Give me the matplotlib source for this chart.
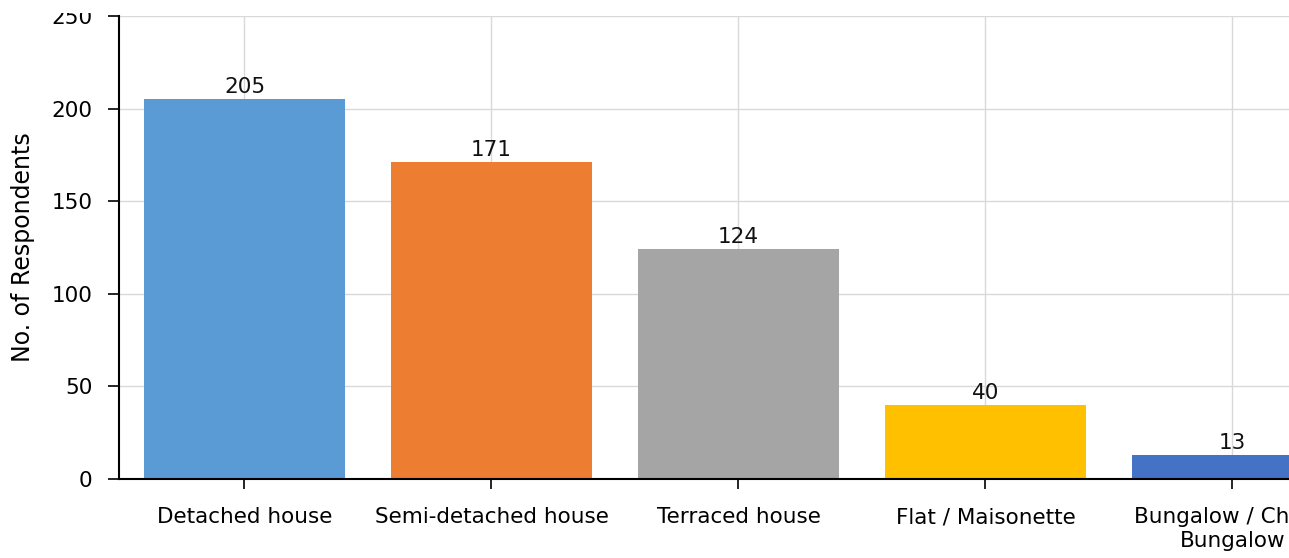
import matplotlib
matplotlib.use("Agg")
import matplotlib.pyplot as plt
from matplotlib.transforms import Bbox

categories = ["Detached house", "Semi-detached house", "Terraced house",
              "Flat / Maisonette", "Bungalow / Chalet\nBungalow"]
values = [205, 171, 124, 40, 13]
colors = ["#5B9BD5", "#ED7D31", "#A5A5A5", "#FFC000", "#4472C4"]
yticks = [0, 50, 100, 150, 200, 250]

plt.rcParams['font.family'] = ['DejaVu Sans']
fig = plt.figure(figsize=(12.89, 5.58), dpi=100)
W, H = 1289, 558
left_px, right_px, top_px, bot_px = 119, 119 + 5 * 247, 16, 479
ax = fig.add_axes([left_px / W, (H - bot_px) / H,
                   (right_px - left_px) / W, (bot_px - top_px) / H])

x = list(range(len(categories)))
bars = ax.bar(x, values, width=0.81, color=colors, zorder=2)
for xi, v in zip(x, values):
    ax.annotate(str(v), (xi, v), xytext=(0, 1.5), textcoords='offset points',
                ha='center', va='bottom', fontsize=15.5, color='#111111', zorder=3)

ax.set_xlim(-0.508, len(categories) - 0.508)
ax.set_ylim(0, 250)
ax.set_xticks(x)
ax.set_xticklabels(categories, fontsize=15.5)
ax.set_yticks(yticks)
ax.tick_params(axis='y', labelsize=15.5, length=8, width=1.2, pad=11)
ax.tick_params(axis='x', length=7.5, width=1.2, pad=13)
ax.grid(True, color='#d9d9d9', linewidth=1, zorder=0)
for s in ['top', 'right']:
    ax.spines[s].set_visible(False)
ax.spines['left'].set_linewidth(1.5)
ax.spines['bottom'].set_linewidth(1.5)
ax.set_ylabel("No. of Respondents", fontsize=17, labelpad=12)

# the reference clips the top tick label at the top edge
fig.canvas.draw()
top_lab = ax.get_yticklabels()[-1]
top_lab.set_clip_box(Bbox.from_extents(0, 0, W, H - 13))
top_lab.set_clip_on(True)

fig.savefig("out.png", dpi=100)
